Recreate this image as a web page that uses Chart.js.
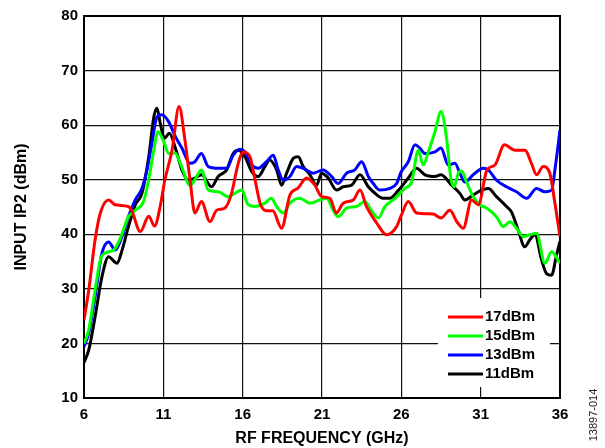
<!DOCTYPE html>
<html>
<head>
<meta charset="utf-8">
<script src="https://cdn.jsdelivr.net/npm/chart.js@4"></script>
<style>
html,body{margin:0;padding:0;background:#fff;}
canvas{display:block;}
</style>
</head>
<body>
<canvas id="c" width="605" height="448"></canvas>
<script>
// ---- data ----
const seriesLabels = ["17dBm", "15dBm", "13dBm", "11dBm"];
const seriesColors = ["#ff0000", "#00ff00", "#0000ff", "#000000"];
const xTicks = [6, 11, 16, 21, 26, 31, 36];
const yTicks = [10, 20, 30, 40, 50, 60, 70, 80];

const freq17 = [6.0,6.3,6.7,7.03,7.55,7.97,8.8,9.0,9.55,10.08,10.45,10.8,11.1,11.55,11.99,12.36,12.68,12.99,13.4,13.94,14.36,14.88,15.3,15.72,16.04,16.46,16.8,17.1,17.5,17.9,18.45,18.98,19.5,20.03,20.55,20.97,21.5,21.9,22.34,22.97,23.4,23.8,24.44,25.07,25.7,26.0,26.44,26.96,28.0,28.5,29.06,29.5,29.9,30.43,30.85,31.4,31.9,32.5,33.16,33.8,34.2,34.52,34.94,35.36,35.68,36.0];
const ip2_17 = [24.3,29.8,39,43.9,46.3,45.4,45.1,44.4,40.5,43.3,41.5,45.1,50,55.4,63.4,57.3,50,43.9,46,42.3,44.4,44.8,47.5,53,55.1,54.2,49.7,45.7,44.3,44.3,41.1,47.2,48.5,50.3,49,46.9,46.6,43.9,45.7,46.3,48.1,45.1,42.1,39.9,41.4,43.5,46,43.9,43.7,43,44.4,42.3,41.1,46.3,45.4,51.8,52.7,56.4,55.4,55.4,53,50.9,52.4,51.2,45.7,39.6];

const freq15 = [6.0,6.3,6.7,7.03,7.34,7.87,8.29,8.8,9.23,9.75,10.08,10.4,10.66,11.02,11.34,11.73,12.15,12.68,12.99,13.4,13.83,14.46,15.09,15.5,15.94,16.35,16.78,17.4,17.8,18.14,18.56,18.98,19.6,20.24,20.87,21.29,21.7,22.02,22.55,23.18,23.7,24.1,24.55,24.97,25.6,26.22,26.65,27.07,27.38,27.7,28.12,28.5,28.85,29.12,29.33,29.59,29.8,30.11,30.53,30.95,31.37,32.0,32.42,32.84,33.26,33.68,34.1,34.52,35.05,35.47,36.0];
const ip2_15 = [20,22.5,29.8,35.3,36.6,37.1,39.3,43.2,44.4,46,50,55.4,58.8,57,54.8,54.9,52.4,49,50,51.8,48.1,47.8,46.9,47.5,48.1,45.4,45.1,45.7,46.6,45.1,43.9,45.7,46.6,45.7,46.3,46.6,44.4,43.2,44.8,45.1,46,44.4,43,45.1,46.6,48.4,49.6,55.4,52.7,55.1,58.8,62.5,57.6,50.3,48.7,51.2,51.6,49.6,46.9,45.4,44.8,43.2,41.4,42.3,41.1,39.6,39.9,40.2,34.7,36.8,34.7];

const freq13 = [6.0,6.3,6.7,7.13,7.55,7.97,8.4,8.8,9.23,9.65,9.97,10.28,10.6,10.91,11.34,11.76,12.17,12.68,12.99,13.4,13.83,14.46,14.99,15.4,15.83,16.14,16.57,16.98,17.5,17.93,18.24,18.56,18.98,19.4,19.82,20.45,21.08,21.6,22.02,22.55,23.07,23.5,23.92,24.23,24.65,25.28,25.7,26.0,26.44,26.86,27.17,27.49,28.12,28.5,28.96,29.38,29.69,30.0,30.53,31.16,31.48,32.0,32.63,33.26,33.9,34.52,35.05,35.47,35.68,36.0];
const ip2_13 = [19.4,21.9,28.6,36.5,38.6,37.1,39.6,43.2,46.3,48.4,51.8,56.7,61.5,61.9,60.6,57.9,55.8,53,53.3,54.8,52.4,52.1,52.1,54.5,55.6,55.1,52.7,52.1,53.3,54.5,51.8,49.9,50.6,52.4,52.1,51.2,51.8,50.6,49.3,51.2,51.8,53.3,50.6,49.3,48.1,48.4,49.3,51.5,53.3,56.4,55.8,54.8,55.1,55.8,52.7,53,51.2,49.6,50.9,52.1,51.8,49.9,48.7,47.8,46.6,48.4,47.8,48.1,51.8,59.1];

const freq11 = [6.0,6.3,6.7,7.13,7.55,8.08,8.4,8.8,9.23,9.65,10.08,10.4,10.6,10.81,11.06,11.38,11.76,12.17,12.57,12.99,13.4,14.04,14.46,14.99,15.4,15.72,16.14,16.57,16.98,17.4,17.7,18.14,18.45,18.77,19.19,19.5,19.82,20.24,20.66,20.97,21.39,21.92,22.34,22.87,23.39,23.92,24.23,24.86,25.28,25.8,26.44,26.96,27.49,28.12,28.5,29.17,29.69,30.0,30.53,31.05,31.48,32.0,32.63,32.94,33.36,33.78,34.1,34.42,34.84,35.15,35.47,35.78,36.0];
const ip2_11 = [16.5,18.8,24.9,32.2,35.9,34.7,37.1,41.4,45.4,47.5,54.2,61.5,63.1,60.3,57.6,58.5,55.8,51.8,49.9,50.3,50.9,48.7,50.6,51.8,54.8,55.4,54.2,51.5,50.6,52.4,53.6,51.8,49,51.2,53.9,54.2,52.4,50.9,49,51.2,50.3,48.1,48.7,49,50.9,48.7,47.8,46.6,46.6,48,50.3,52.1,50.9,50.6,50.9,49,47.5,46.3,47.2,48.1,48.4,46.9,45.1,44.1,40.8,37.7,39,39.9,35.3,32.8,32.5,36.2,38.7];

const seriesFreq = [freq17, freq15, freq13, freq11];
const seriesIp2 = [ip2_17, ip2_15, ip2_13, ip2_11];

// ---- chart ----
const FONT = "'Liberation Sans', Arial, Helvetica, sans-serif";

const datasets = seriesLabels.map((lbl, i) => ({
  label: lbl,
  data: seriesFreq[i].map((f, k) => ({x: f, y: seriesIp2[i][k]})),
  borderColor: seriesColors[i],
  backgroundColor: seriesColors[i],
  borderWidth: 3,
  pointRadius: 0,
  fill: false,
  cubicInterpolationMode: 'monotone',
  tension: 0.4
}));

const framePlugin = {
  id: 'frame',
  beforeDatasetsDraw(chart) {
    const {ctx, chartArea: a} = chart;
    ctx.save();
    ctx.strokeStyle = '#000';
    ctx.lineWidth = 2;
    ctx.strokeRect(a.left, a.top, a.right - a.left, a.bottom - a.top);
    ctx.restore();
  },
  afterDraw(chart) {
    const {ctx, chartArea: a} = chart;
    ctx.save();
    // legend box (white, covers grid)
    const bx = a.right - 122, by = a.bottom - 100, bw = 112, bh = 89;
    ctx.fillStyle = '#fff';
    ctx.fillRect(bx, by, bw, bh);
    ctx.font = "bold 15px " + FONT;
    ctx.textBaseline = 'middle';
    ctx.textAlign = 'left';
    chart.data.datasets.forEach((ds, i) => {
      const y = by + 19 + i * 19;
      ctx.strokeStyle = ds.borderColor;
      ctx.lineWidth = 3;
      ctx.beginPath();
      ctx.moveTo(bx + 10, y);
      ctx.lineTo(bx + 45, y);
      ctx.stroke();
      ctx.fillStyle = '#000';
      ctx.fillText(ds.label, bx + 47, y);
    });
    // side code
    ctx.translate(594, 415);
    ctx.rotate(-Math.PI / 2);
    ctx.font = "11px " + FONT;
    ctx.fillStyle = '#222';
    ctx.textAlign = 'center';
    ctx.textBaseline = 'middle';
    ctx.fillText('13897-014', 0, 0);
    ctx.restore();
  }
};

new Chart(document.getElementById('c'), {
  type: 'line',
  data: {datasets},
  plugins: [framePlugin],
  options: {
    responsive: false,
    animation: false,
    devicePixelRatio: 1,
    layout: {padding: {left: 0, right: 45, top: 16, bottom: 0}},
    plugins: {legend: {display: false}, tooltip: {enabled: false}},
    scales: {
      x: {
        type: 'linear',
        min: xTicks[0],
        max: xTicks[xTicks.length - 1],
        afterBuildTicks: s => { s.ticks = xTicks.map(v => ({value: v})); },
        afterFit: s => { s.height = 50; },
        ticks: {color: '#000', font: {family: FONT, size: 15, weight: 'bold'}, padding: 8, maxRotation: 0},
        grid: {color: '#111', lineWidth: 1.2, drawTicks: false},
        border: {display: true, color: '#000', width: 2},
        title: {display: true, text: 'RF FREQUENCY (GHz)', color: '#000',
                font: {family: FONT, size: 16, weight: 'bold'}, padding: {top: 0, bottom: 0}}
      },
      y: {
        type: 'linear',
        min: yTicks[0],
        max: yTicks[yTicks.length - 1],
        afterBuildTicks: s => { s.ticks = yTicks.map(v => ({value: v})); },
        afterFit: s => { s.width = 84; },
        ticks: {color: '#000', font: {family: FONT, size: 15, weight: 'bold'}, padding: 6},
        grid: {color: '#111', lineWidth: 1.2, drawTicks: false},
        border: {display: true, color: '#000', width: 2},
        title: {display: true, text: 'INPUT IP2 (dBm)', color: '#000',
                font: {family: FONT, size: 16, weight: 'bold'}, padding: {top: 12, bottom: 0}}
      }
    }
  }
});
</script>
</body>
</html>
